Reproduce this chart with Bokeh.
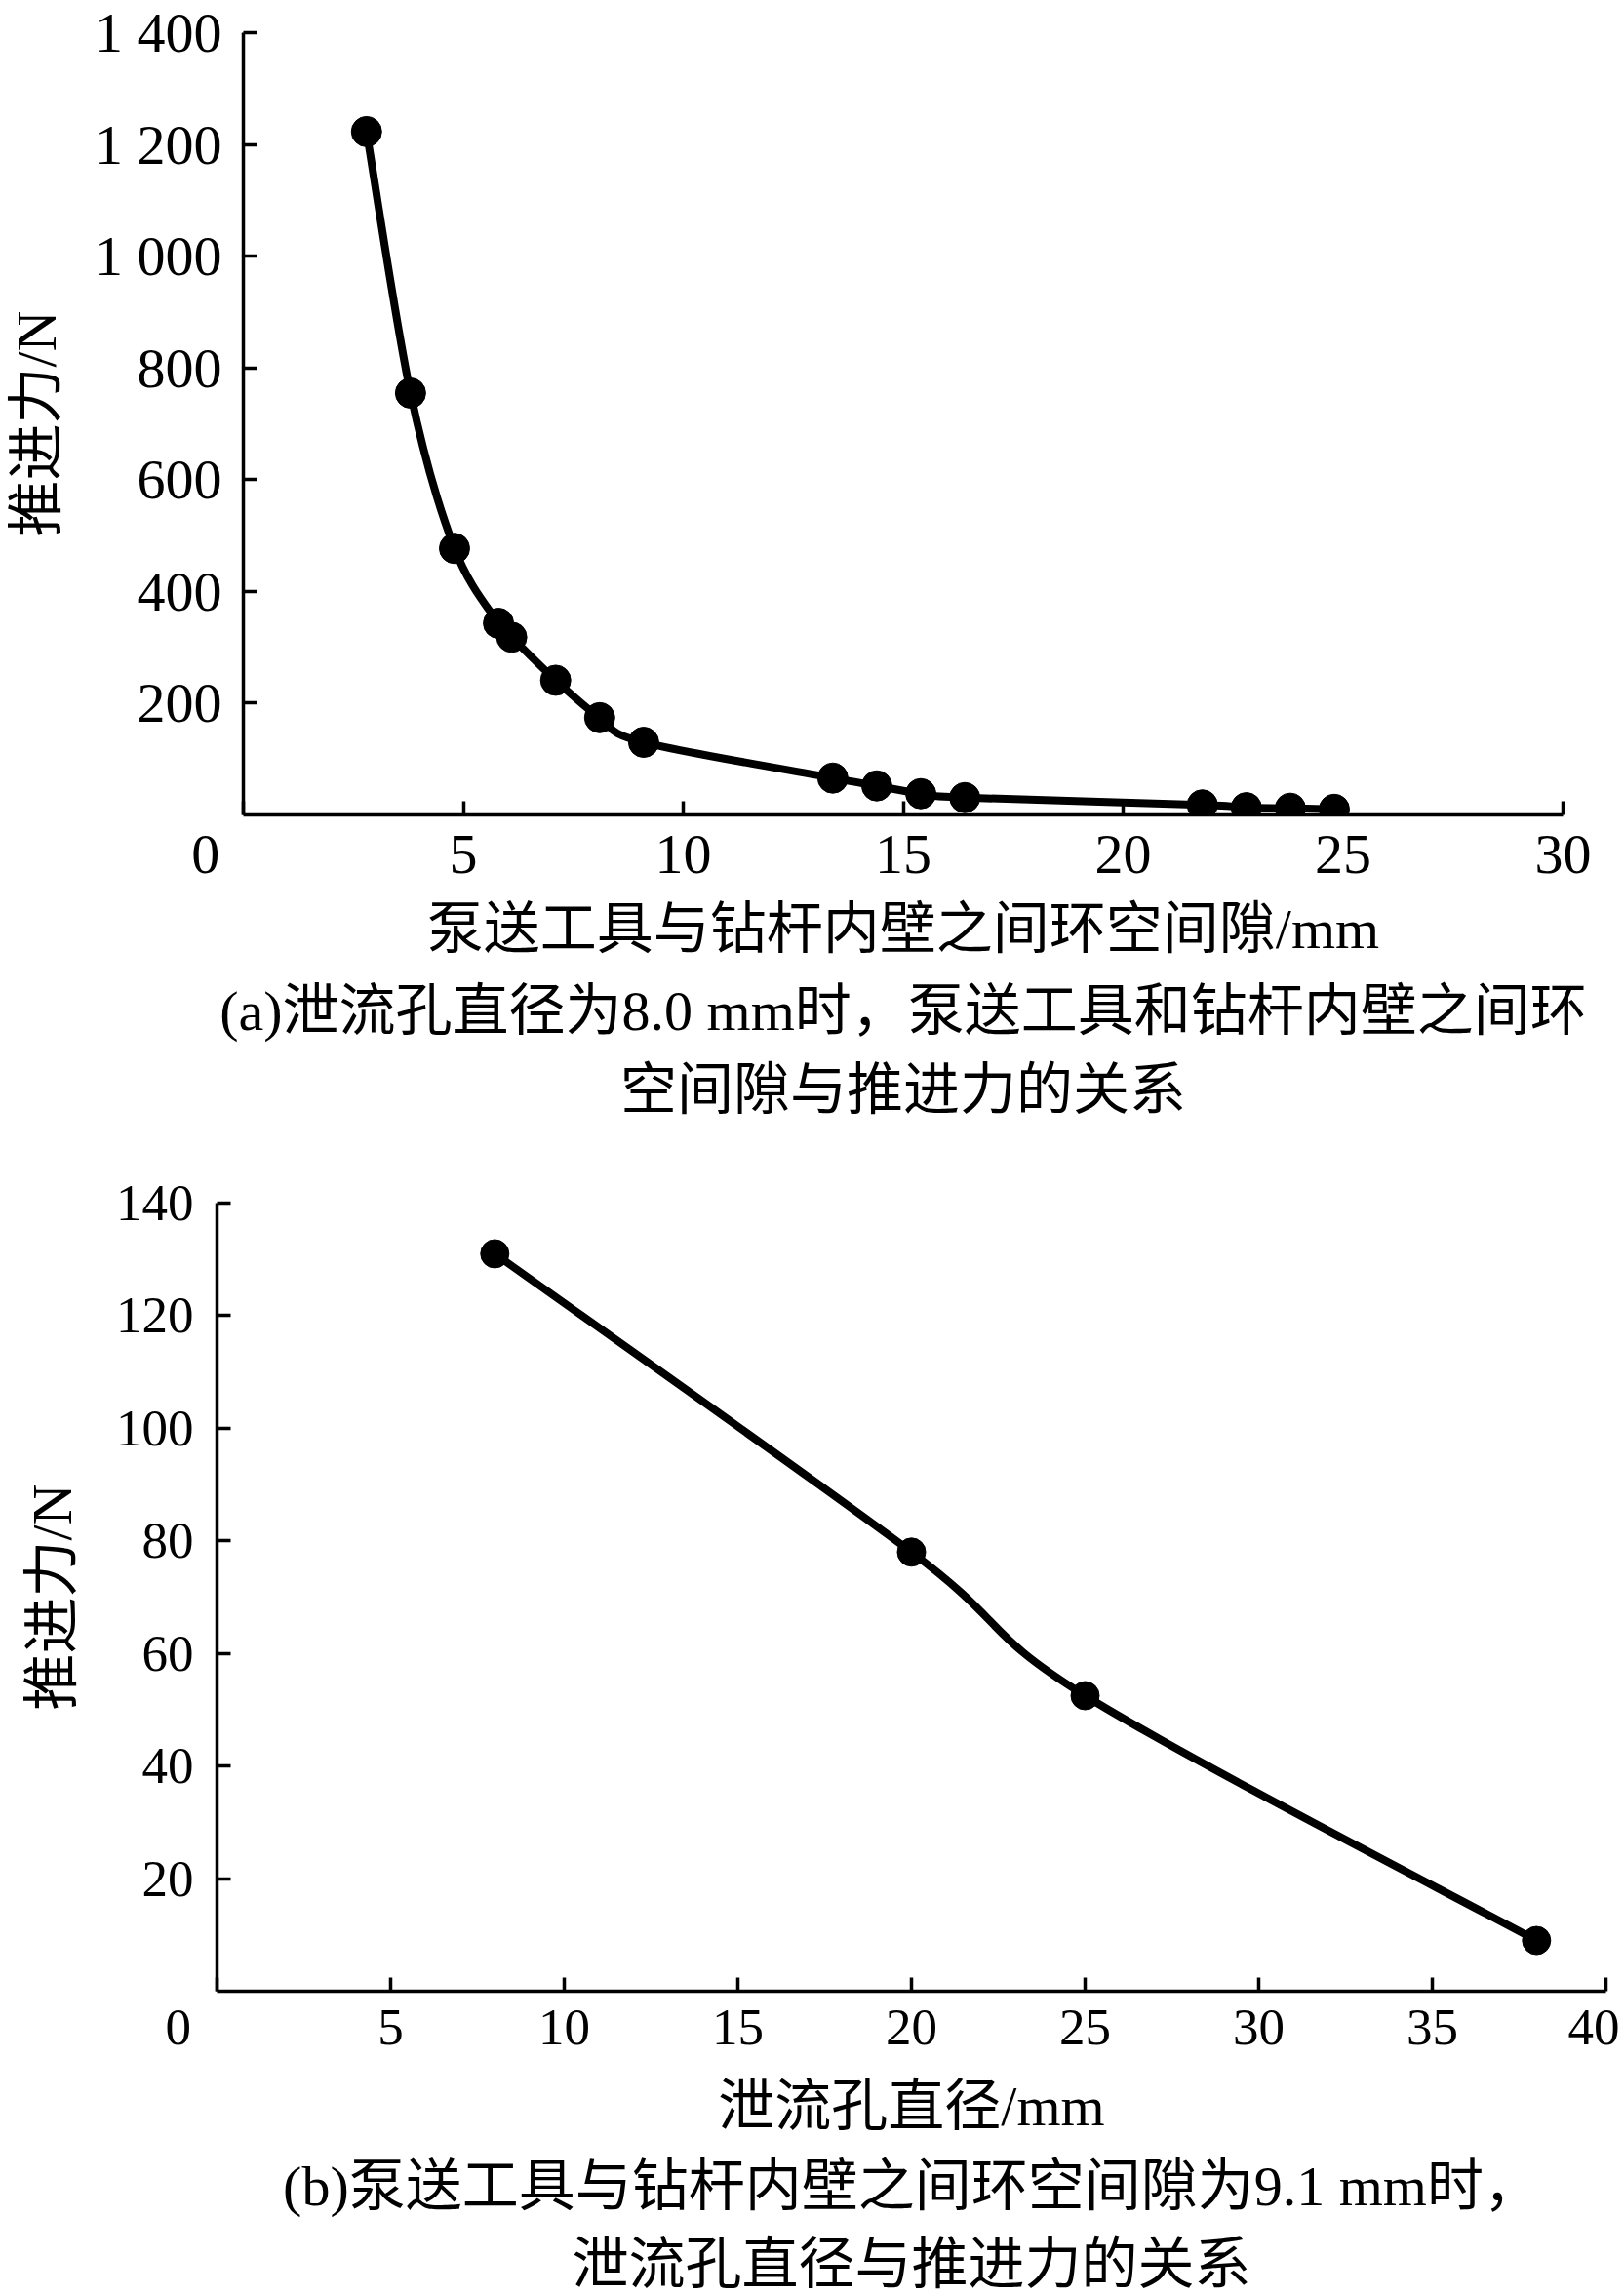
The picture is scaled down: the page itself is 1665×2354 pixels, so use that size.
from bokeh.plotting import figure
from bokeh.models import Range1d, FixedTicker, Title
from bokeh.embed import file_html
from bokeh.resources import INLINE

# ---------------- data ----------------
gap_mm = [2.8, 3.8, 4.8, 5.8, 6.1, 7.1, 8.1, 9.1, 13.4, 14.4, 15.4, 16.4, 21.8, 22.8, 23.8, 24.8]
thrust_a = [1223, 755, 477, 343, 318, 241, 174, 130, 66, 52, 38, 31, 18, 13, 12, 10]

hole_mm = [8.0, 20.0, 25.0, 38.0]
thrust_b = [131, 78, 52.5, 9]

a_xticks = [0, 5, 10, 15, 20, 25, 30]
a_xlabels = {0: "0\u2003\u2004"}
a_yticks = [200, 400, 600, 800, 1000, 1200, 1400]
a_ylabels = {1000: "1 000", 1200: "1 200", 1400: "1 400"}
b_xticks = [0, 5, 10, 15, 20, 25, 30, 35, 40]
b_xlabels = {0: "0\u2003\u2002"}
b_yticks = [20, 40, 60, 80, 100, 120, 140]

a_xtitle = "泵送工具与钻杆内壁之间环空间隙/mm"
a_caption1 = "(a)泄流孔直径为8.0 mm时，泵送工具和钻杆内壁之间环"
a_caption2 = "空间隙与推进力的关系"
b_xtitle = "泄流孔直径/mm"
b_caption1 = "(b)泵送工具与钻杆内壁之间环空间隙为9.1 mm时，"
b_caption2 = "泄流孔直径与推进力的关系"
ytitle = "推进力/N"

NUM_FONT = "Liberation Serif"
CJK_FONT = "Liberation Serif, Noto Sans CJK SC"
CJK_SIZE = "58px"


def smooth_segments(xs, ys):
    """Excel-style smoothed line: Catmull-Rom Bezier control points."""
    n = len(xs)
    d = dict(x0=[], y0=[], x1=[], y1=[], cx0=[], cy0=[], cx1=[], cy1=[])
    for i in range(n - 1):
        ip = max(i - 1, 0)
        inx = min(i + 2, n - 1)
        d["x0"].append(xs[i]); d["y0"].append(ys[i])
        d["x1"].append(xs[i + 1]); d["y1"].append(ys[i + 1])
        d["cx0"].append(xs[i] + (xs[i + 1] - xs[ip]) / 6.0)
        d["cy0"].append(ys[i] + (ys[i + 1] - ys[ip]) / 6.0)
        d["cx1"].append(xs[i + 1] - (xs[inx] - xs[i]) / 6.0)
        d["cy1"].append(ys[i + 1] - (ys[inx] - ys[i]) / 6.0)
    return d


def style_axes(p, xticks, yticks, xlabels, ylabels, tick_size, ylab_standoff,
               xtitle, xtitle_standoff, ytitle_standoff):
    for ax in (p.xaxis[0], p.yaxis[0]):
        ax.axis_line_width = 3.5
        ax.axis_line_color = "black"
        ax.major_tick_line_width = 3.5
        ax.major_tick_line_color = "black"
        ax.major_tick_in = 14
        ax.major_tick_out = 0
        ax.minor_tick_line_color = None
        ax.major_label_text_font = NUM_FONT
        ax.major_label_text_font_size = tick_size
        ax.major_label_text_color = "black"
        ax.major_label_text_font_style = "normal"
        ax.axis_label_text_font = CJK_FONT
        ax.axis_label_text_font_size = CJK_SIZE
        ax.axis_label_text_font_style = "normal"
        ax.axis_label_text_color = "black"
    p.xaxis[0].ticker = FixedTicker(ticks=xticks)
    p.yaxis[0].ticker = FixedTicker(ticks=yticks)
    p.xaxis[0].major_label_overrides = xlabels
    if ylabels:
        p.yaxis[0].major_label_overrides = ylabels
    p.xaxis[0].major_label_standoff = 7
    p.yaxis[0].major_label_standoff = ylab_standoff
    p.xaxis[0].axis_label = xtitle
    p.xaxis[0].axis_label_standoff = xtitle_standoff
    p.yaxis[0].axis_label = ytitle
    p.yaxis[0].axis_label_standoff = ytitle_standoff
    p.xgrid.grid_line_color = None
    p.ygrid.grid_line_color = None
    p.outline_line_color = None


def add_caption(p, text, standoff, offset=0):
    p.add_layout(Title(text=text, align="center", offset=offset, standoff=standoff,
                       text_font=CJK_FONT, text_font_size=CJK_SIZE,
                       text_font_style="normal", text_color="black"), "below")


# ---------------- panel (a) ----------------
pa = figure(frame_width=1353, frame_height=802, output_backend="svg", toolbar_location=None,
            x_range=Range1d(0, 30), y_range=Range1d(0, 1400),
            min_border_left=249, min_border_right=58, min_border_top=33, min_border_bottom=334)
style_axes(pa, a_xticks, a_yticks, a_xlabels, a_ylabels, "58px", 22,
           a_xtitle, 9, 24)
pa.bezier(source=smooth_segments(gap_mm, thrust_a), x0="x0", y0="y0", x1="x1", y1="y1",
          cx0="cx0", cy0="cy0", cx1="cx1", cy1="cy1", line_color="black", line_width=8)
pa.scatter(gap_mm, thrust_a, size=31, marker="circle", fill_color="black", line_color="black")
add_caption(pa, a_caption1, 28)
add_caption(pa, a_caption2, 0)

# ---------------- panel (b) ----------------
pb = figure(frame_width=1424, frame_height=808, output_backend="svg", toolbar_location=None,
            x_range=Range1d(0, 40), y_range=Range1d(0, 140),
            min_border_left=222, min_border_right=14, min_border_top=64, min_border_bottom=305)
style_axes(pb, b_xticks, b_yticks, b_xlabels, None, "53px", 24,
           b_xtitle, 17, 30)
pb.bezier(source=smooth_segments(hole_mm, thrust_b), x0="x0", y0="y0", x1="x1", y1="y1",
          cx0="cx0", cy0="cy0", cx1="cx1", cy1="cy1", line_color="black", line_width=8)
pb.scatter(hole_mm, thrust_b, size=29, marker="circle", fill_color="black", line_color="black")
add_caption(pb, b_caption1, 25, -18)
add_caption(pb, b_caption2, 0)

open("out.html", "w").write(file_html([pa, pb], INLINE))
